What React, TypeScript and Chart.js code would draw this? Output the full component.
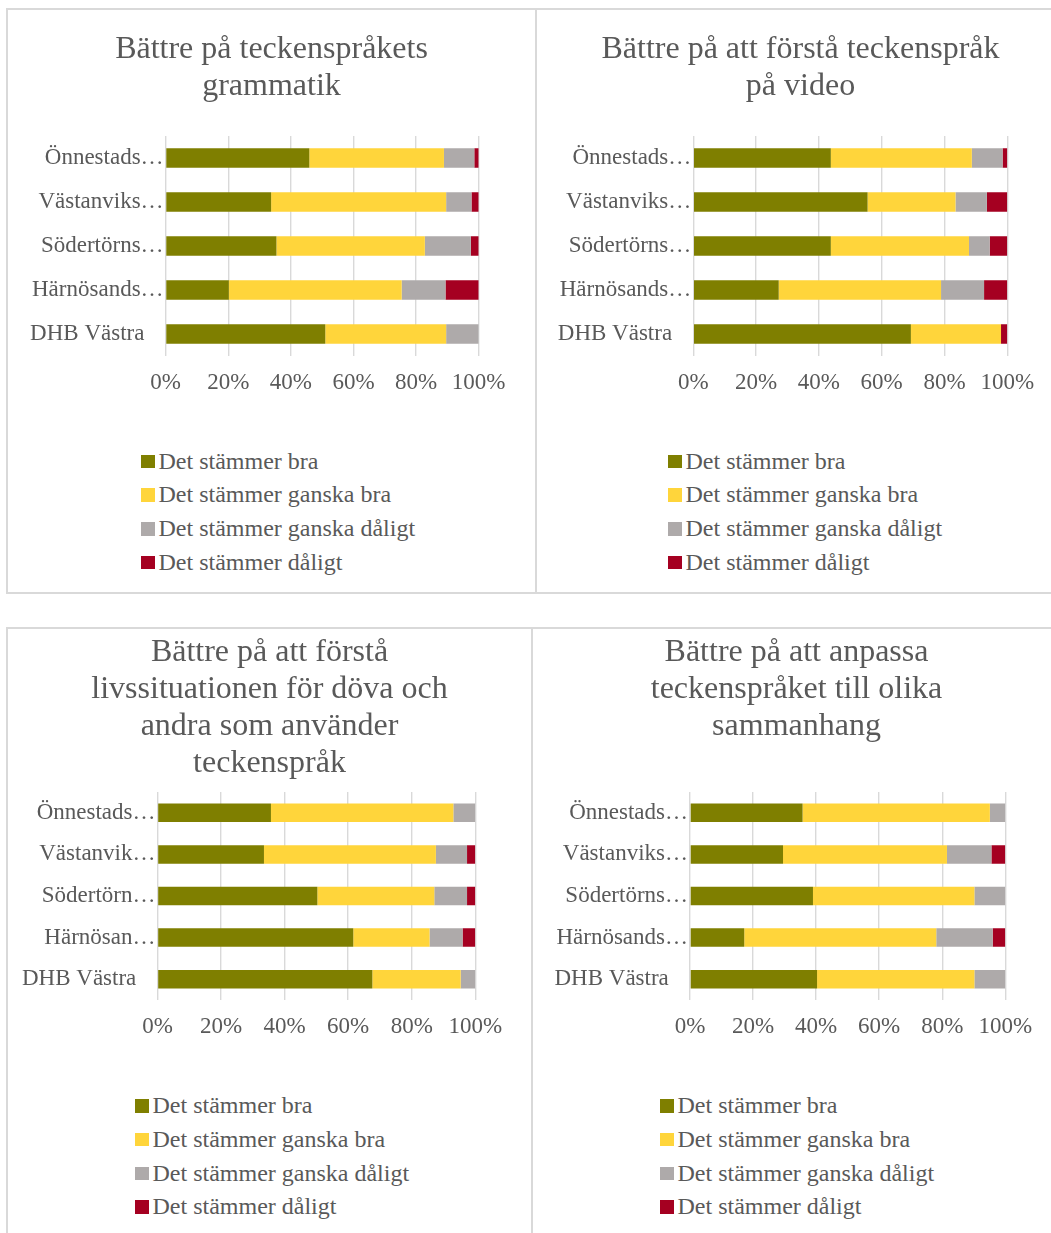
import React, { useEffect, useRef } from 'react';
import { Chart, registerables } from 'chart.js';

Chart.register(...registerables);

// ---------- data ----------
const seriesNames = [
  'Det stämmer bra',
  'Det stämmer ganska bra',
  'Det stämmer ganska dåligt',
  'Det stämmer dåligt',
];
const seriesColors = ['#7F7F00', '#FFD53B', '#AEAAAA', '#A50021'];
const xTicks = [0, 20, 40, 60, 80, 100];

const schoolsA = ['Önnestads…', 'Västanviks…', 'Södertörns…', 'Härnösands…', 'DHB Västra'];
const schoolsB = ['Önnestads…', 'Västanvik…', 'Södertörn…', 'Härnösan…', 'DHB Västra'];

const title1 = ['Bättre på teckenspråkets', 'grammatik'];
const title2 = ['Bättre på att förstå teckenspråk', 'på video'];
const title3 = ['Bättre på att förstå', 'livssituationen för döva och', 'andra som använder', 'teckenspråk'];
const title4 = ['Bättre på att anpassa', 'teckenspråket till olika', 'sammanhang'];

// Panel 1: grammatik
const p1Bra = [45.9, 33.7, 35.4, 20.2, 51.0];
const p1GanskaBra = [43.0, 55.9, 47.4, 55.2, 38.6];
const p1GanskaDaligt = [9.7, 8.1, 14.7, 14.0, 10.4];
const p1Daligt = [1.4, 2.3, 2.5, 10.6, 0];

// Panel 2: video
const p2Bra = [43.8, 55.5, 43.8, 27.2, 69.3];
const p2GanskaBra = [44.9, 28.0, 44.0, 51.7, 28.7];
const p2GanskaDaligt = [9.8, 10.0, 6.6, 13.7, 0];
const p2Daligt = [1.5, 6.5, 5.6, 7.4, 2.0];

// Panel 3: livssituationen
const p3Bra = [35.7, 33.5, 50.3, 61.6, 67.6];
const p3GanskaBra = [57.4, 54.1, 36.8, 24.0, 27.8];
const p3GanskaDaligt = [6.9, 9.8, 10.3, 10.4, 4.6];
const p3Daligt = [0, 2.6, 2.6, 4.0, 0];

// Panel 4: sammanhang
const p4Bra = [35.7, 29.5, 39.0, 17.2, 40.3];
const p4GanskaBra = [59.4, 52.0, 51.2, 60.9, 49.9];
const p4GanskaDaligt = [4.9, 14.1, 9.8, 17.9, 9.8];
const p4Daligt = [0, 4.4, 0, 4.0, 0];

// ---------- layout ----------
const FONT = 'Liberation Serif, "Times New Roman", serif';
const TEXT = '#595959';
const GRID = '#D9D9D9';
const TITLE_SIZE = 32;
const TITLE_LH = 37;
const LABEL_SIZE = 23;
const LEGEND_SIZE = 24;
const X_AXIS_H = 50;

type PanelCfg = {
  box: { left: number; top: number; width: number; height: number };
  chartLeft: number;
  chartRight: number;
  chartTop: number;
  chartBottom: number;
  titleMid: number;
  legendLeft: number;
  legendMid: number;
  title: string[];
  labels: string[];
  values: number[][];
};

const panels: PanelCfg[] = [
  {
    box: { left: 6, top: 8, width: 531, height: 586 },
    chartLeft: 165.6, chartRight: 478.7, chartTop: 136, chartBottom: 356,
    titleMid: 50, legendLeft: 141, legendMid: 461.5,
    title: title1, labels: schoolsA,
    values: [p1Bra, p1GanskaBra, p1GanskaDaligt, p1Daligt],
  },
  {
    box: { left: 535, top: 8, width: 531, height: 586 },
    chartLeft: 693.3, chartRight: 1007.3, chartTop: 136, chartBottom: 356,
    titleMid: 50, legendLeft: 668, legendMid: 461.5,
    title: title2, labels: schoolsA,
    values: [p2Bra, p2GanskaBra, p2GanskaDaligt, p2Daligt],
  },
  {
    box: { left: 6, top: 627, width: 527, height: 700 },
    chartLeft: 157.5, chartRight: 475.3, chartTop: 792, chartBottom: 1000,
    titleMid: 652.5, legendLeft: 135, legendMid: 1106,
    title: title3, labels: schoolsB,
    values: [p3Bra, p3GanskaBra, p3GanskaDaligt, p3Daligt],
  },
  {
    box: { left: 531, top: 627, width: 531, height: 700 },
    chartLeft: 690, chartRight: 1005.3, chartTop: 792, chartBottom: 1000,
    titleMid: 652.5, legendLeft: 660, legendMid: 1106,
    title: title4, labels: schoolsA,
    values: [p4Bra, p4GanskaBra, p4GanskaDaligt, p4Daligt],
  },
];

function Panel({ cfg }: { cfg: PanelCfg }) {
  const ref = useRef<HTMLCanvasElement>(null);
  const cLeft = cfg.box.left + 2;
  const cTop = cfg.box.top + 2;
  const cWidth = cfg.box.width - 4;
  const cHeight = Math.round(cfg.chartBottom - cTop + X_AXIS_H);
  const rightPad = cLeft + cWidth - cfg.chartRight;
  const yWidth = cfg.chartLeft - cLeft;
  const padTop = cfg.titleMid - cTop - TITLE_LH / 2;
  const padBottom = cfg.chartTop - cTop - padTop - cfg.title.length * TITLE_LH;

  useEffect(() => {
    const canvas = ref.current!;
    const chart = new Chart(canvas, {
      type: 'bar',
      data: {
        labels: cfg.labels,
        datasets: seriesNames.map((name, i) => ({
          label: name,
          data: cfg.values[i],
          backgroundColor: seriesColors[i],
          borderWidth: 0,
          barPercentage: 0.445,
          categoryPercentage: 1,
        })),
      },
      options: {
        indexAxis: 'y',
        responsive: false,
        animation: false,
        layout: { padding: 0 },
        scales: {
          x: {
            stacked: true,
            min: 0,
            max: 100,
            afterBuildTicks: (s: any) => {
              s.ticks = xTicks.map((v) => ({ value: v }));
            },
            afterFit: (s: any) => {
              s.height = X_AXIS_H;
            },
            ticks: {
              callback: (v: any) => v + '%',
              color: TEXT,
              font: { family: FONT, size: LABEL_SIZE },
              padding: 13.5,
              maxRotation: 0,
              autoSkip: false,
            },
            grid: { color: GRID, lineWidth: 1.4, drawTicks: false },
            border: { display: false },
          },
          y: {
            stacked: true,
            afterFit: (s: any) => {
              s.width = yWidth;
            },
            ticks: {
              callback: (_v: any, i: number) => {
                const l = cfg.labels[i];
                return l.endsWith('…') ? l : l + '\u2002\u2004';
              },
              color: TEXT,
              font: { family: FONT, size: LABEL_SIZE },
              padding: -6,
              autoSkip: false,
            },
            grid: { display: false },
            border: { display: false },
          },
          // empty right-hand axis that only reserves space so the title stays centred on the panel
          yRight: {
            type: 'category',
            position: 'right',
            labels: cfg.labels,
            afterFit: (s: any) => {
              s.width = rightPad;
            },
            ticks: { display: false },
            grid: { display: false },
            border: { display: false },
          },
        },
        plugins: {
          legend: { display: false },
          tooltip: { enabled: false },
          title: {
            display: true,
            text: cfg.title,
            color: TEXT,
            font: { family: FONT, size: TITLE_SIZE, weight: 'normal', lineHeight: TITLE_LH / TITLE_SIZE },
            padding: { top: padTop, bottom: padBottom },
          },
        },
      },
    } as any);
    return () => chart.destroy();
  }, []);

  return (
    <>
      <div
        style={{
          position: 'absolute',
          left: cfg.box.left,
          top: cfg.box.top,
          width: cfg.box.width,
          height: cfg.box.height,
          border: `2px solid ${GRID}`,
          boxSizing: 'border-box',
        }}
      />
      <canvas
        ref={ref}
        width={cWidth}
        height={cHeight}
        style={{ position: 'absolute', left: cLeft, top: cTop, width: cWidth, height: cHeight }}
      />
      <div
        style={{
          position: 'absolute',
          left: cfg.legendLeft,
          top: cfg.legendMid - 33.7 / 2,
          fontFamily: FONT,
          fontSize: LEGEND_SIZE,
          color: TEXT,
          whiteSpace: 'nowrap',
        }}
      >
        {seriesNames.map((n, i) => (
          <div key={n} style={{ display: 'flex', alignItems: 'center', height: 33.7, lineHeight: '33.7px' }}>
            <span style={{ width: 13.5, height: 13.5, background: seriesColors[i], marginRight: 4, display: 'inline-block' }} />
            <span>{n}</span>
          </div>
        ))}
      </div>
    </>
  );
}

export default function App() {
  return (
    <div
      style={{
        position: 'absolute',
        left: 0,
        top: 0,
        width: 1051,
        height: 1233,
        overflow: 'hidden',
        background: '#FFFFFF',
      }}
    >
      {panels.map((p, i) => (
        <Panel key={i} cfg={p} />
      ))}
    </div>
  );
}
